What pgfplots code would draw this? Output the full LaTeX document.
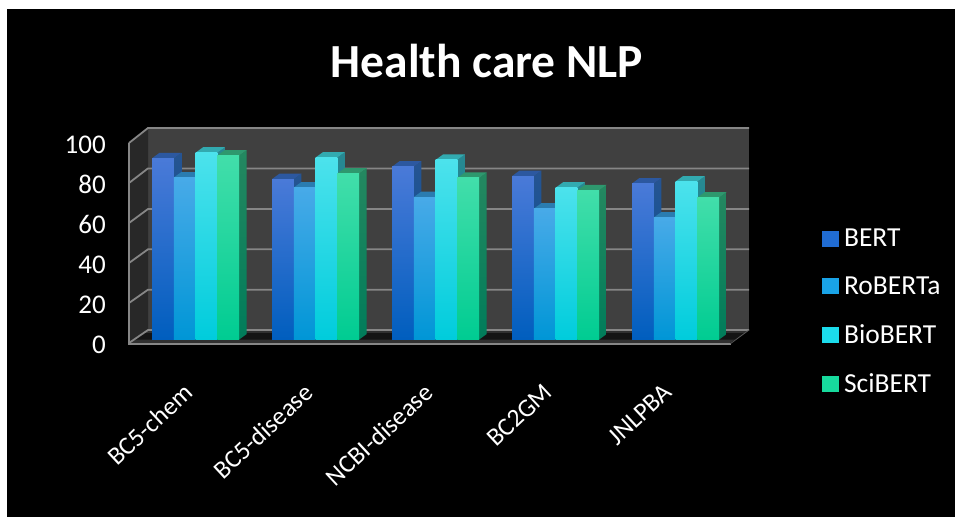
\documentclass[border=0pt]{standalone}
\usepackage{fontspec}
\setmainfont{Carlito}
\usepackage{pgfplots}
\pgfplotsset{compat=1.18}

% Front, side and top colours per series
\definecolor{bertA}{RGB}{74,122,216}\definecolor{bertB}{RGB}{10,100,208}\definecolor{bertC}{RGB}{0,94,190}
\definecolor{bertS}{RGB}{38,84,146}\definecolor{bertT}{RGB}{0,84,150}\definecolor{bertU}{RGB}{44,88,160}
\definecolor{robA}{RGB}{72,170,232}\definecolor{robB}{RGB}{0,160,230}\definecolor{robC}{RGB}{0,150,214}
\definecolor{robS}{RGB}{38,110,160}\definecolor{robT}{RGB}{0,110,160}\definecolor{robU}{RGB}{42,124,176}
\definecolor{bioA}{RGB}{76,226,236}\definecolor{bioB}{RGB}{0,216,236}\definecolor{bioC}{RGB}{0,204,220}
\definecolor{bioS}{RGB}{40,136,146}\definecolor{bioT}{RGB}{0,136,150}\definecolor{bioU}{RGB}{50,170,176}
\definecolor{sciA}{RGB}{66,222,170}\definecolor{sciB}{RGB}{0,216,150}\definecolor{sciC}{RGB}{0,204,146}
\definecolor{sciS}{RGB}{36,136,96}\definecolor{sciT}{RGB}{0,124,90}\definecolor{sciU}{RGB}{46,152,110}
\definecolor{gridline}{RGB}{134,134,134}
\definecolor{backwall}{RGB}{64,64,64}
\definecolor{sidewall}{RGB}{40,40,40}
\definecolor{floorlight}{RGB}{48,48,48}
\definecolor{floordark}{RGB}{20,20,20}

% One solid bar: left edge, value, series prefix
\newcommand{\solidbar}[3]{%
  \addplot[draw=none,top color=#3S,bottom color=#3T] coordinates
    {({#1+21.8},1.75) ({#1+29.3},4.5) ({#1+29.3},{#2+4.5}) ({#1+21.8},{#2+1.75})} --cycle;
  \addplot[draw=none,fill=#3U] coordinates
    {(#1,{#2+1.75}) ({#1+21.8},{#2+1.75}) ({#1+29.3},{#2+4.5}) ({#1+7.5},{#2+4.5})} --cycle;
  \addplot[draw=none,top color=#3A,middle color=#3B,bottom color=#3C] coordinates
    {(#1,1.75) ({#1+21.8},1.75) ({#1+21.8},{#2+1.75}) (#1,{#2+1.75})} --cycle;
}
% One group of four bars
\newcommand{\bargroup}[5]{%
  \solidbar{#1}{#2}{bert}
  \solidbar{#1+21.8}{#3}{rob}
  \solidbar{#1+43.6}{#4}{bio}
  \solidbar{#1+65.4}{#5}{sci}
}
% A gridline running across the side wall and the back wall
\newcommand{\wallgrid}[2]{%
  \addplot[gridline,line width=1.8pt] coordinates {(129,#1) (148,#2) (749,#2)};
}
% A legend swatch: one thick stroke in the series colour, sized by an invisible box
\newcommand{\swatch}[1]{%
  \addlegendimage{legend image code/.code={%
    \path (0pt,-8pt) rectangle (16.5pt,8pt);
    \draw[overlay,#1A!35!#1B,line width=16pt] (0pt,0pt) -- (16.5pt,0pt);
  }}
}

\begin{document}
\begin{tikzpicture}
\useasboundingbox (-129pt,-174pt) rectangle (826pt,343pt);
\fill[white] (-129pt,-174pt) rectangle (826pt,343pt);
\fill[black] (-122pt,-174pt) rectangle (826pt,334pt);
\begin{axis}[
  at={(0pt,0pt)},anchor=origin,
  x=1pt,y=2pt,
  xmin=129,xmax=730,ymin=0,ymax=100,
  clip=false,
  axis line style={draw=none},
  major tick length=0pt,
  no markers,
  xtick={195.5,315.5,435.5,555.5,675.5},
  xticklabels={BC5-chem,BC5-disease,NCBI-disease,BC2GM,JNLPBA},
  ytick={0,20,40,60,80,100},
  xticklabel style={font=\fontsize{25.5}{25.5}\selectfont,text=white,rotate=43,anchor=north east,inner sep=0pt,xshift=-36pt,yshift=-19.5pt},
  yticklabel style={font=\fontsize{27}{27}\selectfont,text=white,anchor=east,inner sep=0pt,xshift=-23pt,yshift=-1.5pt},
  /pgf/number format/assume math mode=true,
  legend cell align=left,
  legend style={at={(axis cs:822,57)},anchor=north west,draw=none,fill=none,text=white,
    font=\fontsize{27.5}{27.5}\selectfont,row sep=28.5pt,column sep=5pt,inner sep=0pt,
    nodes={inner sep=0pt,anchor=west}},
]
% Legend images come first so that the entries attach to them
\swatch{bert}\addlegendentry{BERT}
\swatch{rob}\addlegendentry{RoBERTa}
\swatch{bio}\addlegendentry{BioBERT}
\swatch{sci}\addlegendentry{SciBERT}
% Walls and floor
\addplot[draw=none,fill=backwall] coordinates {(148,107.5) (749,107.5) (749,6.5) (148,6.5)} --cycle;
\addplot[draw=none,fill=sidewall] coordinates {(129,100) (148,107.5) (148,6.5) (129,0)} --cycle;
\addplot[draw=none,fill=floorlight] coordinates {(129,0) (730,0) (749,6.5) (148,6.5)} --cycle;
\addplot[draw=none,fill=floordark] coordinates {(134,1.7) (736,1.7) (745,5) (143,5)} --cycle;
\wallgrid{100}{107.5}
\wallgrid{80}{87.3}
\wallgrid{60}{67}
\wallgrid{40}{46.85}
\wallgrid{20}{26.65}
\wallgrid{0}{6.5}
\addplot[gridline,line width=1.8pt] coordinates {(129,100) (129,-0.3) (730.5,-0.3)};
\addplot[black!65,line width=0.8pt] coordinates {(730.5,-0.3) (749,6.5)};
% Bars
\bargroup{152}{90.6}{81}{93.4}{92}
\bargroup{272}{80.2}{76}{91}{83}
\bargroup{392}{86.4}{71.2}{89.8}{80.8}
\bargroup{512}{81.7}{65.4}{75.9}{74.6}
\bargroup{632}{78}{61}{79}{71}
\node[text=white,font=\fontsize{47.5}{47.5}\selectfont\bfseries] at (axis cs:487,141) {Health care NLP};
\end{axis}
\end{tikzpicture}
\end{document}
